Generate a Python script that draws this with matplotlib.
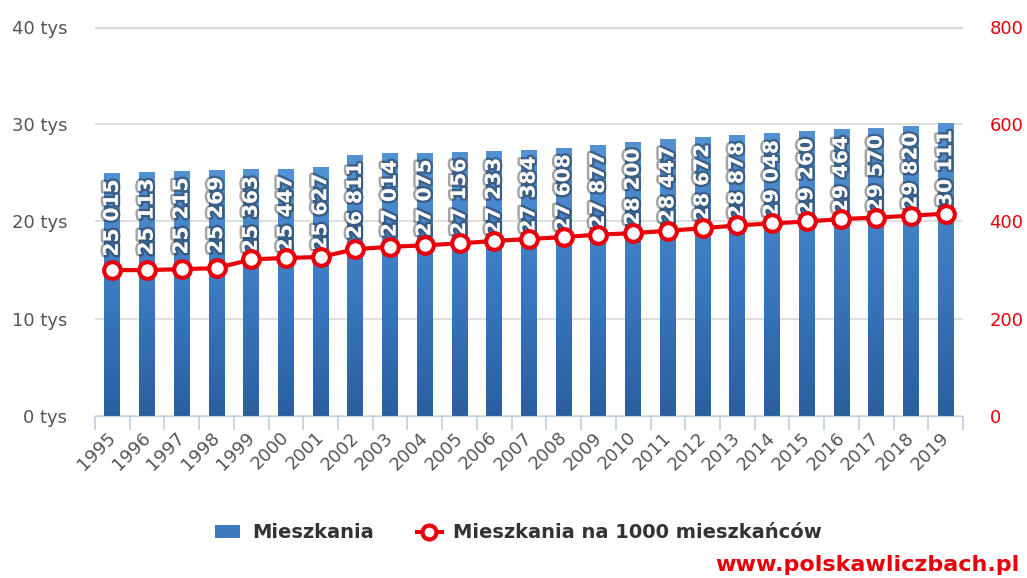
import numpy as np
import matplotlib
matplotlib.use('Agg')
import matplotlib.pyplot as plt
import matplotlib.patheffects as pe
import matplotlib.transforms as mtransforms
from matplotlib.lines import Line2D
from matplotlib.patches import Patch

years = [str(y) for y in range(1995, 2020)]
mieszkania = [25015, 25113, 25215, 25269, 25363, 25447, 25627, 26811, 27014, 27075,
              27156, 27233, 27384, 27608, 27877, 28200, 28447, 28672, 28878, 29048,
              29260, 29464, 29570, 29820, 30111]
na_1000 = [300, 300, 302, 304, 322, 325, 327, 343, 348, 351,
           355, 360, 364, 368, 373, 376, 381, 386, 392, 396,
           400, 405, 408, 412, 416]

left_ticks = [0, 10000, 20000, 30000, 40000]
left_labels = ['0 tys', '10 tys', '20 tys', '30 tys', '40 tys']
right_ticks = [0, 200, 400, 600, 800]

grey = '#555555'
red = '#e8000b'

fig = plt.figure(figsize=(10.27, 5.78), dpi=100)
ax = fig.add_axes([0.0925, 0.2803, 0.8452, 0.673])
ax2 = ax.twinx()

x = np.arange(len(years))
bars = ax.bar(x, mieszkania, width=0.46, color='#3b78bd', zorder=2)

# gradient fill for bars
grad = np.linspace(0, 1, 256).reshape(-1, 1)
cmap = matplotlib.colors.LinearSegmentedColormap.from_list('b', ['#2a5f9e', '#3b79c0', '#5492d3'])
for b in bars:
    x0, y0 = b.get_x(), b.get_y()
    w, h = b.get_width(), b.get_height()
    im = ax.imshow(grad, extent=[x0, x0 + w, y0, y0 + h], aspect='auto',
                   cmap=cmap, origin='lower', zorder=2)
    im.set_clip_path(b)

ax.set_xlim(-0.5, len(years) - 0.5)
ax.set_ylim(0, 40000)
ax.set_yticks(left_ticks)
ax.set_yticklabels(left_labels)
ax.yaxis.grid(True, color='#d9d9d9', linewidth=1.2, zorder=0)
ax.set_axisbelow(True)
for s in ['top', 'right', 'left']:
    ax.spines[s].set_visible(False)
ax.spines['bottom'].set_color('#c0cfe0')
ax.tick_params(axis='y', length=0, labelsize=13, labelcolor=grey, pad=20)

ax.set_xticks(x)
ax.set_xticklabels(years, rotation=45, ha='right', rotation_mode='anchor',
                   fontsize=13, color=grey)
ax.tick_params(axis='x', length=0, pad=9)
shift = mtransforms.ScaledTranslation(-6 / 100, 0, fig.dpi_scale_trans)
for lbl in ax.get_xticklabels():
    lbl.set_transform(lbl.get_transform() + shift)
ax.set_xticks(np.arange(-0.5, len(years)), minor=True)
ax.tick_params(axis='x', which='minor', length=10, color='#c0cfe0', width=1.2)

# top gridline a bit thicker
ax.axhline(40000, color='#d9d9d9', linewidth=2.5, zorder=0)

for xi, v in zip(x, mieszkania):
    ax.text(xi, v - 700, '{:,}'.format(v).replace(',', ' '), rotation=90,
            ha='center', va='top', color='white', fontsize=14.5, fontweight='bold',
            zorder=5,
            path_effects=[pe.withStroke(linewidth=3.5, foreground=(0.12, 0.12, 0.12, 0.4))])

ax2.plot(x, na_1000, color=red, linewidth=3, marker='o', markersize=12,
         markerfacecolor='white', markeredgecolor=red, markeredgewidth=3, zorder=6)
ax2.set_ylim(0, 800)
ax2.set_yticks(right_ticks)
ax2.tick_params(axis='y', length=0, labelsize=13, labelcolor=red, pad=19)
for s in ['top', 'right', 'left', 'bottom']:
    ax2.spines[s].set_visible(False)
ax2.set_zorder(ax.get_zorder() + 1)
ax2.patch.set_visible(False)

handles = [Patch(facecolor='#3b78bd', edgecolor='none'),
           Line2D([0], [0], color=red, linewidth=3, marker='o', markersize=10,
                  markerfacecolor='white', markeredgecolor=red, markeredgewidth=3)]
fig.legend(handles, ['Mieszkania', 'Mieszkania na 1000 mieszkańców'],
           loc='center', bbox_to_anchor=(0.505, 0.078), ncol=2, frameon=False,
           prop={'size': 14, 'weight': 'bold'}, labelcolor='#333333',
           handlelength=1.3, columnspacing=2.2, handletextpad=0.6)

fig.text(0.993, 0.006, 'www.polskawliczbach.pl', ha='right', va='bottom',
         color=red, fontsize=16, fontweight='bold')

fig.savefig('out.png', dpi=100)
